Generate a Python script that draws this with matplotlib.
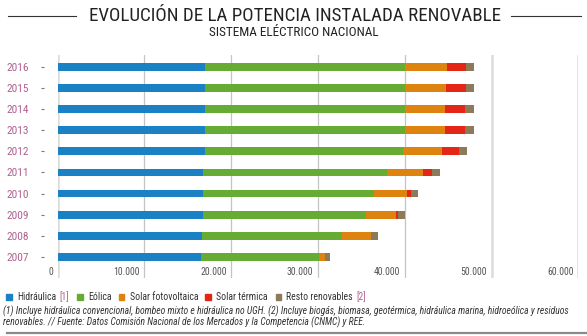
import numpy as np
import matplotlib
matplotlib.use('Agg')
import matplotlib.pyplot as plt
from matplotlib import font_manager as fm
from matplotlib.lines import Line2D
from matplotlib.patches import Rectangle

anios = ['2007', '2008', '2009', '2010', '2011', '2012', '2013', '2014', '2015', '2016']
hidraulica = [16510, 16670, 16740, 16740, 16780, 16940, 16975, 17050, 17050, 17050]
eolica = [13620, 16150, 18840, 19680, 21140, 22860, 23095, 23020, 23020, 23020]
solar_fv = [650, 3260, 3380, 3830, 4180, 4450, 4560, 4630, 4670, 4750]
solar_termica = [10, 60, 220, 510, 1030, 1950, 2300, 2270, 2270, 2190]
resto = [610, 750, 810, 800, 890, 960, 1000, 1000, 920, 960]

series = [hidraulica, eolica, solar_fv, solar_termica, resto]
colores = ['#1a82c4', '#66ab32', '#de8210', '#e42616', '#8c7a5a']
nombres = ['Hidráulica', 'Eólica', 'Solar fotovoltaica', 'Solar térmica', 'Resto renovables']
notas = ['[1]', '', '', '', '[2]']
xticks = [0, 10000, 20000, 30000, 40000, 50000, 60000]


# busca una sans estrecha entre las fuentes instaladas
def fuente_estrecha(estilo):
    preferidas = ['LiberationSansNarrow', 'RobotoCondensed', 'NotoSans-Condensed',
                  'NotoSansDisplay-Condensed', 'DejaVuSansCondensed', 'OpenSans_Condensed',
                  'OpenSansCondensed', 'Condensed', 'Narrow']
    lista = [f for f in fm.fontManager.ttflist
             if f.style == estilo and f.weight in (400, 'normal', 'regular')
             and 'Mono' not in f.fname and 'Serif' not in f.fname]
    for p in preferidas:
        for f in lista:
            if p in f.fname.replace(' ', ''):
                return fm.FontProperties(fname=f.fname)
    return None


def con_tamano(props, tam):
    p = props.copy()
    p.set_size(tam)
    return p


fp = fuente_estrecha('normal') or fm.FontProperties(family='Roboto')
fpi = fuente_estrecha('italic') or fm.FontProperties(family='Roboto', style='italic')
estrecha = fuente_estrecha('normal') is not None
k = 1.0 if estrecha else 0.86

W, H = 587, 336
fig = plt.figure(figsize=(W / 100, H / 100), dpi=100)
ax = fig.add_axes([57.5 / W, (H - 278) / H, (578.3 - 57.5) / W, (278 - 55) / H])

for s in ax.spines.values():
    s.set_visible(False)
ax.spines['left'].set_position(('outward', 10))

y = np.arange(len(anios))
izq = np.zeros(len(anios))
for datos, color in zip(series, colores):
    ax.barh(y, datos, left=izq, height=0.37, color=color, zorder=3)
    izq += np.array(datos)

# rejilla vertical
for v in xticks:
    if v in (0, 50000, 60000):
        ax.axvline(v, color='#dcdcdc', lw=1.8, zorder=1)
    else:
        ax.axvline(v, color='#c4c4c4', lw=0.9, zorder=1)

ax.set_xlim(0, 60000)
ax.set_ylim(-0.99, 9.55)
ax.set_xticks([])
ax.set_yticks(y)
ax.set_yticklabels(anios, color='#b0608f', fontproperties=con_tamano(fp, 8.2 * k))
ax.tick_params(axis='y', length=2.2, width=0.8, color='#777777', pad=8.3)

for v in xticks:
    etiqueta = f'{v:,}'.replace(',', '.')
    ax.annotate(etiqueta, (v, -0.99), xytext=(-3.2, 0.5), textcoords='offset points',
                ha='right', va='bottom', fontproperties=con_tamano(fp, 7 * k), color='#555555')

# título
fig.text(295 / W, 1 - 16 / H, 'EVOLUCIÓN DE LA POTENCIA INSTALADA RENOVABLE',
         ha='center', va='center', fontproperties=con_tamano(fp, 13.7 * k), color='#222222')
fig.text(294 / W, 1 - 32.5 / H, 'SISTEMA ELÉCTRICO NACIONAL',
         ha='center', va='center', fontproperties=con_tamano(fp, 9.5 * k), color='#222222')
fig.add_artist(Line2D([7.5 / W, 76 / W], [1 - 16 / H] * 2, color='#333333', lw=0.8))
fig.add_artist(Line2D([511 / W, 581 / W], [1 - 16 / H] * 2, color='#333333', lw=0.8))

# leyenda
xs_cuadro = [8.6, 79.7, 121.4, 207.5, 278]
yl = 1 - 297 / H
for xc, color, nombre, nota in zip(xs_cuadro, colores, nombres, notas):
    fig.add_artist(Rectangle((xc / W - 2.5 / W, yl - 2.8 / H), 5.5 / W, 5.5 / H,
                             color=color, transform=fig.transFigure))
    t = fig.text(xc / W + 8.5 / W, yl, nombre, ha='left', va='center',
                 fontproperties=con_tamano(fp, 7 * k), color='#333333')
    if nota:
        fig.canvas.draw()
        bb = t.get_window_extent()
        fig.text(bb.x1 / W + 3 / W, yl, nota, ha='left', va='center',
                 fontproperties=con_tamano(fp, 7 * k), color='#b0608f')

# notas al pie
fig.text(3 / W, 1 - 311 / H,
         '(1) Incluye hidráulica convencional, bombeo mixto e hidráulica no UGH. '
         '(2) Incluye biogás, biomasa, geotérmica, hidráulica marina, hidroeólica y residuos',
         ha='left', va='center', fontproperties=con_tamano(fpi, 6.9 * k), color='#333333')
fig.text(3 / W, 1 - 322.5 / H,
         'renovables. // Fuente: Datos Comisión Nacional de los Mercados y la Competencia (CNMC) y REE.',
         ha='left', va='center', fontproperties=con_tamano(fpi, 6.9 * k), color='#333333')
fig.add_artist(Line2D([7 / W, 1], [1 - 333 / H] * 2, color='#8a8a8a', lw=1.6))

fig.savefig('out.png', dpi=100)
